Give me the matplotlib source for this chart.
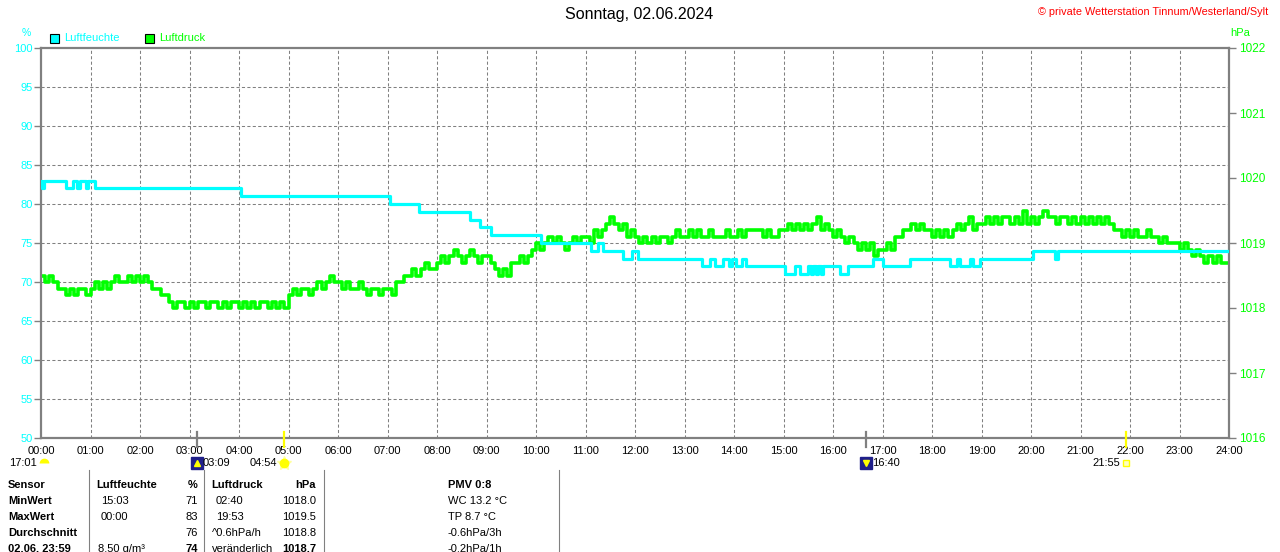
import numpy as np
import matplotlib.pyplot as plt
from matplotlib import transforms
from matplotlib.lines import Line2D

plt.rcParams['font.family'] = ['Liberation Sans', 'DejaVu Sans']

W, H = 1280, 552

# Luftfeuchte in %, als Stufen: Zeit (h) ab der der Wert gilt
hum_t = [0.00, 0.02, 0.07, 0.50, 0.65, 0.72, 0.78, 0.90, 0.95, 1.09,
         4.05, 7.05, 7.64, 8.66, 8.87, 9.10, 10.10, 11.12, 11.25, 11.36,
         11.75, 11.93, 12.06, 13.35, 13.51, 13.62, 13.78, 13.89, 13.95, 14.05,
         14.16, 14.24, 15.03, 15.23, 15.33, 15.50, 15.55, 15.60, 15.65, 15.70,
         15.75, 15.80, 16.14, 16.30, 16.80, 17.00, 17.56, 18.36, 18.50, 18.56,
         18.77, 18.83, 18.97, 20.04, 20.48, 20.55, 24.00]
hum_v = [83, 82, 83, 82, 83, 82, 83, 82, 83, 82,
         81, 80, 79, 78, 77, 76, 75, 74, 75, 74,
         73, 74, 73, 72, 73, 72, 73, 72, 73, 72,
         73, 72, 71, 72, 71, 72, 71, 72, 71, 72,
         71, 72, 71, 72, 73, 72, 73, 72, 73, 72,
         73, 72, 73, 74, 73, 74, 74]

# Luftdruck in hPa, alle 5 Minuten, eine Zeile je Stunde
pres = [1018.5, 1018.4, 1018.5, 1018.4, 1018.3, 1018.3, 1018.2, 1018.3, 1018.2, 1018.3, 1018.3, 1018.2,
        1018.3, 1018.4, 1018.3, 1018.4, 1018.3, 1018.4, 1018.5, 1018.4, 1018.4, 1018.5, 1018.4, 1018.5,
        1018.4, 1018.5, 1018.4, 1018.3, 1018.3, 1018.2, 1018.2, 1018.1, 1018.0, 1018.1, 1018.1, 1018.0,
        1018.1, 1018.0, 1018.1, 1018.1, 1018.0, 1018.1, 1018.1, 1018.0, 1018.1, 1018.0, 1018.1, 1018.1,
        1018.0, 1018.1, 1018.0, 1018.1, 1018.0, 1018.1, 1018.1, 1018.0, 1018.1, 1018.0, 1018.1, 1018.0,
        1018.2, 1018.3, 1018.2, 1018.3, 1018.3, 1018.2, 1018.3, 1018.4, 1018.3, 1018.4, 1018.5, 1018.4,
        1018.4, 1018.3, 1018.4, 1018.3, 1018.3, 1018.4, 1018.3, 1018.2, 1018.3, 1018.3, 1018.2, 1018.3,
        1018.3, 1018.2, 1018.4, 1018.4, 1018.5, 1018.5, 1018.6, 1018.5, 1018.6, 1018.7, 1018.6, 1018.6,
        1018.7, 1018.8, 1018.7, 1018.8, 1018.9, 1018.8, 1018.7, 1018.8, 1018.9, 1018.8, 1018.7, 1018.8,
        1018.8, 1018.7, 1018.6, 1018.5, 1018.6, 1018.5, 1018.7, 1018.7, 1018.8, 1018.7, 1018.8, 1018.9,
        1019.0, 1018.9, 1019.0, 1019.1, 1019.0, 1019.1, 1019.0, 1018.9, 1019.0, 1019.1, 1019.0, 1019.1,
        1019.1, 1019.0, 1019.2, 1019.1, 1019.2, 1019.3, 1019.4, 1019.3, 1019.2, 1019.3, 1019.1, 1019.2,
        1019.1, 1019.0, 1019.1, 1019.0, 1019.1, 1019.0, 1019.1, 1019.1, 1019.0, 1019.1, 1019.2, 1019.1,
        1019.1, 1019.2, 1019.1, 1019.2, 1019.1, 1019.1, 1019.2, 1019.1, 1019.1, 1019.1, 1019.2, 1019.1,
        1019.1, 1019.2, 1019.1, 1019.2, 1019.2, 1019.2, 1019.2, 1019.1, 1019.2, 1019.1, 1019.1, 1019.2,
        1019.2, 1019.3, 1019.2, 1019.3, 1019.2, 1019.3, 1019.2, 1019.3, 1019.4, 1019.2, 1019.3, 1019.2,
        1019.1, 1019.2, 1019.1, 1019.0, 1019.1, 1019.0, 1018.9, 1019.0, 1018.9, 1019.0, 1018.8, 1018.9,
        1018.9, 1019.0, 1018.9, 1019.1, 1019.1, 1019.2, 1019.2, 1019.3, 1019.2, 1019.3, 1019.2, 1019.2,
        1019.1, 1019.2, 1019.1, 1019.2, 1019.1, 1019.2, 1019.3, 1019.2, 1019.3, 1019.4, 1019.2, 1019.3,
        1019.3, 1019.4, 1019.3, 1019.4, 1019.3, 1019.4, 1019.4, 1019.3, 1019.4, 1019.3, 1019.5, 1019.3,
        1019.4, 1019.3, 1019.4, 1019.5, 1019.4, 1019.4, 1019.3, 1019.4, 1019.4, 1019.3, 1019.4, 1019.3,
        1019.4, 1019.3, 1019.4, 1019.3, 1019.4, 1019.3, 1019.4, 1019.3, 1019.2, 1019.2, 1019.1, 1019.2,
        1019.1, 1019.2, 1019.1, 1019.1, 1019.2, 1019.1, 1019.1, 1019.0, 1019.1, 1019.0, 1019.0, 1019.0,
        1018.9, 1019.0, 1018.9, 1018.8, 1018.9, 1018.8, 1018.7, 1018.8, 1018.7, 1018.8, 1018.7, 1018.7,
        1018.7]
pres_t = np.arange(len(pres)) / 12.0

hour_lbl = ["%02d:00" % h for h in range(25)]
hum_ticks = list(range(50, 101, 5))
pres_ticks = list(range(1016, 1023))

# Mond-/Sonnenereignisse
ev_lbl = ['03:09', '04:54', '16:40', '21:55']
ev_t = [3 + 9/60, 4 + 54/60, 16 + 40/60, 21 + 55/60]
ev_col = ['#808080', '#ffff00', '#808080', '#ffff00']
ev_side = ['right', 'left', 'right', 'left']
ev_icon = ['moonup', 'sun', 'moondown', 'sunset']
prev_moon = '17:01'

# Tabelle unten
tbl = [
    ["Sensor", "Luftfeuchte", "%", "Luftdruck", "hPa", "PMV 0:8"],
    ["MinWert", "15:03", "71", "02:40", "1018.0", "WC 13.2 °C"],
    ["MaxWert", "00:00", "83", "19:53", "1019.5", "TP 8.7 °C"],
    ["Durchschnitt", "", "76", "^0.6hPa/h", "1018.8", "-0.6hPa/3h"],
    ["02.06. 23:59", "8.50 g/m³", "74", "veränderlich", "1018.7", "-0.2hPa/1h"],
]

CYAN = '#00ffff'
GREEN = '#00ff00'
GRAY = '#808080'


def fx(x):
    return x / W


def fy(y):
    return 1 - y / H


fig = plt.figure(figsize=(W / 100, H / 100), dpi=100)
ax = fig.add_axes([fx(41), fy(438), (1229 - 41) / W, (438 - 48) / H])
ax2 = ax.twinx()
ax.set_zorder(ax2.get_zorder() + 1)
ax.patch.set_visible(False)

ax.set_xlim(0, 24)
ax.set_ylim(50, 100)
ax2.set_ylim(1016, 1022)

# Gitter im unteren Achsensystem, damit die Linien drüber liegen
dash = (0, (3, 2.2))
for h in range(1, 24):
    ax2.axvline(h, color=GRAY, lw=0.75, ls=dash, zorder=1)
tr_h = transforms.blended_transform_factory(ax2.transAxes, ax.transData)
for v in hum_ticks[1:-1]:
    ax2.plot([0, 1], [v, v], transform=tr_h, color=GRAY, lw=0.75, ls=dash, zorder=1)

ax2.plot(pres_t, pres, color=GREEN, lw=2.6, drawstyle='steps-post', zorder=3)
ax.plot(hum_t, hum_v, color=CYAN, lw=2.3, drawstyle='steps-post', zorder=3)

for s in ax.spines.values():
    s.set_color(GRAY)
    s.set_linewidth(1.6)
for s in ax2.spines.values():
    s.set_visible(False)

ax.set_yticks(hum_ticks)
ax.tick_params(axis='y', color=GRAY, labelcolor=CYAN, length=5, width=1,
               pad=1, labelsize=8)
ax.set_xticks(range(25))
ax.set_xticklabels(hour_lbl)
ax.tick_params(axis='x', length=0, pad=6, labelsize=8, labelcolor='black')
ax2.set_yticks(pres_ticks)
ax2.tick_params(axis='y', color=GRAY, labelcolor=GREEN, length=5, width=1,
                pad=2, labelsize=8.5)

# Ereignismarken an der Zeitachse
tr_ev = transforms.blended_transform_factory(ax.transData, ax.transAxes)
for t, c in zip(ev_t, ev_col):
    ax.add_line(Line2D([t, t], [0.016, -0.024], transform=tr_ev, color=c,
                       lw=1.6, clip_on=False, zorder=5))

tr_icon = transforms.blended_transform_factory(ax.transData, fig.transFigure)
y_ev = fy(463)


def icon(t, kind):
    if kind == 'moon':
        ax.plot([t], [y_ev], transform=tr_icon, marker='o', ms=7, fillstyle='top',
                mfc='#ffff00', mfcalt='none', mec='none', clip_on=False)
    elif kind == 'sun':
        ax.plot([t], [y_ev], transform=tr_icon, marker='*', ms=10, mfc='#ffffa0',
                mec='#ffffa0', clip_on=False)
        ax.plot([t], [y_ev], transform=tr_icon, marker='o', ms=6, mfc='#ffff00',
                mec='#ffff00', clip_on=False)
    elif kind in ('moonup', 'moondown'):
        ax.plot([t], [y_ev], transform=tr_icon, marker='s', ms=9, mfc='#20208a',
                mec='#20208a', clip_on=False)
        ax.plot([t], [y_ev], transform=tr_icon, marker='^' if kind == 'moonup' else 'v',
                ms=4, mfc='#ffff00', mec='#ffff00', clip_on=False)
    else:
        ax.plot([t], [y_ev], transform=tr_icon, marker='s', ms=5, mfc='#ffffc0',
                mec='#ffff00', mew=1, clip_on=False)


for t, lbl, side, kind in zip(ev_t, ev_lbl, ev_side, ev_icon):
    icon(t, kind)
    off = transforms.offset_copy(tr_icon, fig=fig, x=6 if side == 'right' else -6,
                                 y=0, units='dots')
    ax.text(t, y_ev, lbl, transform=off, fontsize=8,
            ha='left' if side == 'right' else 'right', va='center')

icon(0.06, 'moon')
off = transforms.offset_copy(tr_icon, fig=fig, x=-7, y=0, units='dots')
ax.text(0.06, y_ev, prev_moon, transform=off, fontsize=8, ha='right', va='center')

# Kopf
fig.text(fx(639), fy(15), "Sonntag, 02.06.2024", fontsize=11.5, ha='center', va='center')
fig.text(fx(1268), fy(12), "© private Wetterstation Tinnum/Westerland/Sylt",
         fontsize=7.8, color='red', ha='right', va='center')
fig.text(fx(26), fy(33), "%", fontsize=7.5, color=CYAN, ha='center', va='center')
fig.text(fx(1240), fy(33), "hPa", fontsize=8, color=GREEN, ha='center', va='center')

# Legende
for x0, col, name in [(50, CYAN, "Luftfeuchte"), (145, GREEN, "Luftdruck")]:
    fig.add_artist(plt.Rectangle((fx(x0), fy(43)), 9 / W, 9 / H, facecolor=col,
                                 edgecolor='black', lw=0.8, transform=fig.transFigure))
    fig.text(fx(x0 + 14), fy(38), name, fontsize=8, color=col, ha='left', va='center')

# Tabelle
for xl in [89, 204, 324, 559]:
    fig.add_artist(Line2D([fx(xl), fx(xl)], [fy(470), fy(552)], color=GRAY, lw=0.8))

col_x = [(8, 'left'), (101, 'left'), (198, 'right'), (216, 'left'), (316, 'right'), (448, 'left')]
row_y = [485, 501, 517, 533, 549]
for r, row in enumerate(tbl):
    for c, txt in enumerate(row):
        x, ha = col_x[c]
        if r == 0 and c in (1, 3):
            x -= 5
        if r == 4 and c == 1:
            x -= 3
        if r in (3, 4) and c == 3:
            x = 212
        bold = r == 0 or c == 0 or (r == 4 and c in (2, 4))
        fig.text(fx(x), fy(row_y[r]), txt, fontsize=8, ha=ha, va='center',
                 fontweight='bold' if bold else 'normal')

fig.savefig('out.png', dpi=100)
